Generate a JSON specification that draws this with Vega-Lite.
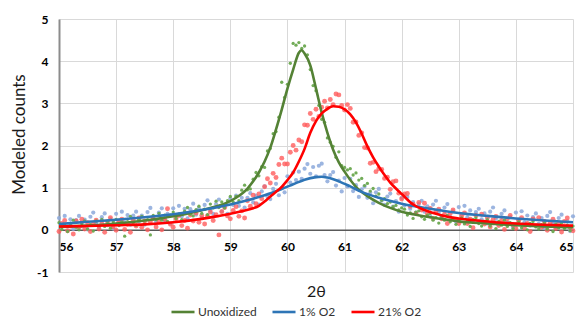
{
  "$schema": "https://vega.github.io/schema/vega-lite/v6.json",
  "width": 514,
  "height": 253,
  "autosize": "none",
  "padding": {"left": 59, "top": 19, "right": 11, "bottom": 48},
  "background": "white",
  "config": {
    "view": {"stroke": null},
    "font": "Lato",
    "axis": {"labelFont": "Lato", "titleFont": "Lato"}
  },
  "datasets": {
    "pts": [
      {"s":"B","x":56.00,"y":0.28},{"s":"B","x":56.05,"y":0.11},{"s":"B","x":56.10,"y":0.33},{"s":"B","x":56.15,"y":0.08},{"s":"B","x":56.20,"y":0.25},{"s":"B","x":56.25,"y":0.02},{"s":"B","x":56.30,"y":0.23},{"s":"B","x":56.35,"y":0.33},{"s":"B","x":56.40,"y":0.09},{"s":"B","x":56.45,"y":0.24},{"s":"B","x":56.50,"y":0.01},{"s":"B","x":56.55,"y":0.31},{"s":"B","x":56.60,"y":0.41},{"s":"B","x":56.65,"y":0.16},{"s":"B","x":56.70,"y":0.07},{"s":"B","x":56.75,"y":0.30},{"s":"B","x":56.80,"y":0.39},{"s":"B","x":56.85,"y":0.11},{"s":"B","x":56.90,"y":0.25},{"s":"B","x":56.95,"y":0.03},
      {"s":"B","x":57.00,"y":0.38},{"s":"B","x":57.05,"y":0.22},{"s":"B","x":57.10,"y":0.43},{"s":"B","x":57.15,"y":0.18},{"s":"B","x":57.20,"y":0.35},{"s":"B","x":57.25,"y":0.12},{"s":"B","x":57.30,"y":0.34},{"s":"B","x":57.35,"y":0.43},{"s":"B","x":57.40,"y":0.20},{"s":"B","x":57.45,"y":0.34},{"s":"B","x":57.50,"y":0.12},{"s":"B","x":57.55,"y":0.42},{"s":"B","x":57.60,"y":0.52},{"s":"B","x":57.65,"y":0.27},{"s":"B","x":57.70,"y":0.19},{"s":"B","x":57.75,"y":0.41},{"s":"B","x":57.80,"y":0.51},{"s":"B","x":57.85,"y":0.23},{"s":"B","x":57.90,"y":0.38},{"s":"B","x":57.95,"y":0.15},
      {"s":"B","x":58.00,"y":0.51},{"s":"B","x":58.05,"y":0.35},{"s":"B","x":58.10,"y":0.57},{"s":"B","x":58.15,"y":0.32},{"s":"B","x":58.20,"y":0.50},{"s":"B","x":58.25,"y":0.27},{"s":"B","x":58.30,"y":0.49},{"s":"B","x":58.35,"y":0.62},{"s":"B","x":58.40,"y":0.36},{"s":"B","x":58.45,"y":0.51},{"s":"B","x":58.50,"y":0.29},{"s":"B","x":58.55,"y":0.59},{"s":"B","x":58.60,"y":0.70},{"s":"B","x":58.65,"y":0.46},{"s":"B","x":58.70,"y":0.38},{"s":"B","x":58.75,"y":0.61},{"s":"B","x":58.80,"y":0.72},{"s":"B","x":58.85,"y":0.44},{"s":"B","x":58.90,"y":0.59},{"s":"B","x":58.95,"y":0.38},
      {"s":"B","x":59.00,"y":0.74},{"s":"B","x":59.05,"y":0.59},{"s":"B","x":59.10,"y":0.81},{"s":"B","x":59.15,"y":0.57},{"s":"B","x":59.20,"y":0.76},{"s":"B","x":59.25,"y":0.53},{"s":"B","x":59.30,"y":0.76},{"s":"B","x":59.35,"y":0.87},{"s":"B","x":59.40,"y":0.65},{"s":"B","x":59.45,"y":0.81},{"s":"B","x":59.50,"y":0.60},{"s":"B","x":59.55,"y":0.91},{"s":"B","x":59.60,"y":1.03},{"s":"B","x":59.65,"y":0.79},{"s":"B","x":59.70,"y":0.73},{"s":"B","x":59.75,"y":0.97},{"s":"B","x":59.80,"y":1.09},{"s":"B","x":59.85,"y":0.82},{"s":"B","x":59.90,"y":0.99},{"s":"B","x":59.95,"y":0.89},
      {"s":"B","x":60.00,"y":1.27},{"s":"B","x":60.05,"y":1.12},{"s":"B","x":60.10,"y":1.36},{"s":"B","x":60.15,"y":1.18},{"s":"B","x":60.20,"y":1.38},{"s":"B","x":60.25,"y":1.21},{"s":"B","x":60.30,"y":1.45},{"s":"B","x":60.35,"y":1.56},{"s":"B","x":60.40,"y":1.33},{"s":"B","x":60.45,"y":1.49},{"s":"B","x":60.50,"y":1.27},{"s":"B","x":60.55,"y":1.52},{"s":"B","x":60.60,"y":1.57},{"s":"B","x":60.65,"y":1.30},{"s":"B","x":60.70,"y":1.15},{"s":"B","x":60.75,"y":1.30},{"s":"B","x":60.80,"y":1.37},{"s":"B","x":60.85,"y":1.05},{"s":"B","x":60.90,"y":1.17},{"s":"B","x":60.95,"y":0.91},
      {"s":"B","x":61.00,"y":1.23},{"s":"B","x":61.05,"y":1.03},{"s":"B","x":61.10,"y":1.21},{"s":"B","x":61.15,"y":0.92},{"s":"B","x":61.20,"y":1.06},{"s":"B","x":61.25,"y":0.78},{"s":"B","x":61.30,"y":0.96},{"s":"B","x":61.35,"y":1.03},{"s":"B","x":61.40,"y":0.76},{"s":"B","x":61.45,"y":0.88},{"s":"B","x":61.50,"y":0.63},{"s":"B","x":61.55,"y":0.89},{"s":"B","x":61.60,"y":0.97},{"s":"B","x":61.65,"y":0.69},{"s":"B","x":61.70,"y":0.59},{"s":"B","x":61.75,"y":0.79},{"s":"B","x":61.80,"y":0.86},{"s":"B","x":61.85,"y":0.55},{"s":"B","x":61.90,"y":0.68},{"s":"B","x":61.95,"y":0.43},
      {"s":"B","x":62.00,"y":0.76},{"s":"B","x":62.05,"y":0.58},{"s":"B","x":62.10,"y":0.78},{"s":"B","x":62.15,"y":0.50},{"s":"B","x":62.20,"y":0.66},{"s":"B","x":62.25,"y":0.41},{"s":"B","x":62.30,"y":0.61},{"s":"B","x":62.35,"y":0.69},{"s":"B","x":62.40,"y":0.43},{"s":"B","x":62.45,"y":0.56},{"s":"B","x":62.50,"y":0.32},{"s":"B","x":62.55,"y":0.60},{"s":"B","x":62.60,"y":0.69},{"s":"B","x":62.65,"y":0.42},{"s":"B","x":62.70,"y":0.32},{"s":"B","x":62.75,"y":0.53},{"s":"B","x":62.80,"y":0.61},{"s":"B","x":62.85,"y":0.31},{"s":"B","x":62.90,"y":0.44},{"s":"B","x":62.95,"y":0.20},
      {"s":"B","x":63.00,"y":0.54},{"s":"B","x":63.05,"y":0.36},{"s":"B","x":63.10,"y":0.57},{"s":"B","x":63.15,"y":0.30},{"s":"B","x":63.20,"y":0.46},{"s":"B","x":63.25,"y":0.22},{"s":"B","x":63.30,"y":0.42},{"s":"B","x":63.35,"y":0.50},{"s":"B","x":63.40,"y":0.25},{"s":"B","x":63.45,"y":0.39},{"s":"B","x":63.50,"y":0.15},{"s":"B","x":63.55,"y":0.43},{"s":"B","x":63.60,"y":0.53},{"s":"B","x":63.65,"y":0.26},{"s":"B","x":63.70,"y":0.16},{"s":"B","x":63.75,"y":0.38},{"s":"B","x":63.80,"y":0.46},{"s":"B","x":63.85,"y":0.17},{"s":"B","x":63.90,"y":0.30},{"s":"B","x":63.95,"y":0.07},
      {"s":"B","x":64.00,"y":0.41},{"s":"B","x":64.05,"y":0.24},{"s":"B","x":64.10,"y":0.44},{"s":"B","x":64.15,"y":0.18},{"s":"B","x":64.20,"y":0.34},{"s":"B","x":64.25,"y":0.10},{"s":"B","x":64.30,"y":0.30},{"s":"B","x":64.35,"y":0.39},{"s":"B","x":64.40,"y":0.14},{"s":"B","x":64.45,"y":0.28},{"s":"B","x":64.50,"y":0.04},{"s":"B","x":64.55,"y":0.33},{"s":"B","x":64.60,"y":0.42},{"s":"B","x":64.65,"y":0.16},{"s":"B","x":64.70,"y":0.06},{"s":"B","x":64.75,"y":0.28},{"s":"B","x":64.80,"y":0.36},{"s":"B","x":64.85,"y":0.07},{"s":"B","x":64.90,"y":0.20},{"s":"B","x":64.95,"y":-0.03},{"s":"B","x":65.00,"y":0.32},

      {"s":"R","x":56.00,"y":-0.04},{"s":"R","x":56.05,"y":0.15},{"s":"R","x":56.10,"y":0.22},{"s":"R","x":56.15,"y":-0.02},{"s":"R","x":56.20,"y":0.09},{"s":"R","x":56.25,"y":-0.10},{"s":"R","x":56.30,"y":0.21},{"s":"R","x":56.35,"y":0.06},{"s":"R","x":56.40,"y":0.25},{"s":"R","x":56.45,"y":0.02},{"s":"R","x":56.50,"y":0.17},{"s":"R","x":56.55,"y":-0.04},{"s":"R","x":56.60,"y":0.14},{"s":"R","x":56.65,"y":0.23},{"s":"R","x":56.70,"y":0.02},{"s":"R","x":56.75,"y":0.14},{"s":"R","x":56.80,"y":-0.06},{"s":"R","x":56.85,"y":0.19},{"s":"R","x":56.90,"y":0.29},{"s":"R","x":56.95,"y":0.07},
      {"s":"R","x":57.00,"y":-0.01},{"s":"R","x":57.05,"y":0.18},{"s":"R","x":57.10,"y":0.25},{"s":"R","x":57.15,"y":0.01},{"s":"R","x":57.20,"y":0.13},{"s":"R","x":57.25,"y":-0.06},{"s":"R","x":57.30,"y":0.24},{"s":"R","x":57.35,"y":0.09},{"s":"R","x":57.40,"y":0.28},{"s":"R","x":57.45,"y":0.06},{"s":"R","x":57.50,"y":0.21},{"s":"R","x":57.55,"y":0.00},{"s":"R","x":57.60,"y":0.19},{"s":"R","x":57.65,"y":0.27},{"s":"R","x":57.70,"y":0.07},{"s":"R","x":57.75,"y":0.19},{"s":"R","x":57.80,"y":0.00},{"s":"R","x":57.85,"y":0.25},{"s":"R","x":57.90,"y":0.50},{"s":"R","x":57.95,"y":0.13},
      {"s":"R","x":58.00,"y":0.06},{"s":"R","x":58.05,"y":0.26},{"s":"R","x":58.10,"y":0.34},{"s":"R","x":58.15,"y":0.10},{"s":"R","x":58.20,"y":0.22},{"s":"R","x":58.25,"y":0.04},{"s":"R","x":58.30,"y":0.35},{"s":"R","x":58.35,"y":0.21},{"s":"R","x":58.40,"y":0.40},{"s":"R","x":58.45,"y":0.18},{"s":"R","x":58.50,"y":0.34},{"s":"R","x":58.55,"y":0.14},{"s":"R","x":58.60,"y":0.33},{"s":"R","x":58.65,"y":0.42},{"s":"R","x":58.70,"y":0.22},{"s":"R","x":58.75,"y":0.36},{"s":"R","x":58.80,"y":-0.12},{"s":"R","x":58.85,"y":0.43},{"s":"R","x":58.90,"y":0.53},{"s":"R","x":58.95,"y":0.33},
      {"s":"R","x":59.00,"y":0.26},{"s":"R","x":59.05,"y":0.46},{"s":"R","x":59.10,"y":0.55},{"s":"R","x":59.15,"y":0.32},{"s":"R","x":59.20,"y":0.45},{"s":"R","x":59.25,"y":0.28},{"s":"R","x":59.30,"y":0.69},{"s":"R","x":59.35,"y":0.56},{"s":"R","x":59.40,"y":0.82},{"s":"R","x":59.45,"y":0.62},{"s":"R","x":59.50,"y":0.85},{"s":"R","x":59.55,"y":0.74},{"s":"R","x":59.60,"y":1.02},{"s":"R","x":59.65,"y":1.21},{"s":"R","x":59.70,"y":1.11},{"s":"R","x":59.75,"y":1.34},{"s":"R","x":59.80,"y":1.24},{"s":"R","x":59.85,"y":1.55},{"s":"R","x":59.90,"y":1.70},{"s":"R","x":59.95,"y":1.56},
      {"s":"R","x":60.00,"y":1.56},{"s":"R","x":60.05,"y":1.84},{"s":"R","x":60.10,"y":2.00},{"s":"R","x":60.15,"y":1.89},{"s":"R","x":60.20,"y":2.13},{"s":"R","x":60.25,"y":2.09},{"s":"R","x":60.30,"y":2.49},{"s":"R","x":60.35,"y":2.48},{"s":"R","x":60.40,"y":2.76},{"s":"R","x":60.45,"y":2.62},{"s":"R","x":60.50,"y":2.86},{"s":"R","x":60.55,"y":2.69},{"s":"R","x":60.60,"y":2.91},{"s":"R","x":60.65,"y":3.05},{"s":"R","x":60.70,"y":2.89},{"s":"R","x":60.75,"y":3.09},{"s":"R","x":60.80,"y":2.97},{"s":"R","x":60.85,"y":3.22},{"s":"R","x":60.90,"y":3.20},{"s":"R","x":60.95,"y":2.95},
      {"s":"R","x":61.00,"y":2.84},{"s":"R","x":61.05,"y":2.97},{"s":"R","x":61.10,"y":2.88},{"s":"R","x":61.15,"y":2.55},{"s":"R","x":61.20,"y":2.56},{"s":"R","x":61.25,"y":2.24},{"s":"R","x":61.30,"y":2.30},{"s":"R","x":61.35,"y":1.95},{"s":"R","x":61.40,"y":1.94},{"s":"R","x":61.45,"y":1.58},{"s":"R","x":61.50,"y":1.60},{"s":"R","x":61.55,"y":1.38},{"s":"R","x":61.60,"y":1.45},{"s":"R","x":61.65,"y":1.43},{"s":"R","x":61.70,"y":1.22},{"s":"R","x":61.75,"y":1.25},{"s":"R","x":61.80,"y":0.96},{"s":"R","x":61.85,"y":1.14},{"s":"R","x":61.90,"y":1.16},{"s":"R","x":61.95,"y":0.87},
      {"s":"R","x":62.00,"y":0.73},{"s":"R","x":62.05,"y":0.85},{"s":"R","x":62.10,"y":0.86},{"s":"R","x":62.15,"y":0.56},{"s":"R","x":62.20,"y":0.61},{"s":"R","x":62.25,"y":0.39},{"s":"R","x":62.30,"y":0.65},{"s":"R","x":62.35,"y":0.47},{"s":"R","x":62.40,"y":0.63},{"s":"R","x":62.45,"y":0.38},{"s":"R","x":62.50,"y":0.51},{"s":"R","x":62.55,"y":0.27},{"s":"R","x":62.60,"y":0.43},{"s":"R","x":62.65,"y":0.49},{"s":"R","x":62.70,"y":0.26},{"s":"R","x":62.75,"y":0.37},{"s":"R","x":62.80,"y":0.15},{"s":"R","x":62.85,"y":0.39},{"s":"R","x":62.90,"y":0.47},{"s":"R","x":62.95,"y":0.24},
      {"s":"R","x":63.00,"y":0.15},{"s":"R","x":63.05,"y":0.33},{"s":"R","x":63.10,"y":0.40},{"s":"R","x":63.15,"y":0.15},{"s":"R","x":63.20,"y":0.25},{"s":"R","x":63.25,"y":0.05},{"s":"R","x":63.30,"y":0.34},{"s":"R","x":63.35,"y":0.19},{"s":"R","x":63.40,"y":0.37},{"s":"R","x":63.45,"y":0.14},{"s":"R","x":63.50,"y":0.28},{"s":"R","x":63.55,"y":0.07},{"s":"R","x":63.60,"y":0.24},{"s":"R","x":63.65,"y":0.32},{"s":"R","x":63.70,"y":0.10},{"s":"R","x":63.75,"y":0.22},{"s":"R","x":63.80,"y":0.01},{"s":"R","x":63.85,"y":0.26},{"s":"R","x":63.90,"y":0.34},{"s":"R","x":63.95,"y":0.12},
      {"s":"R","x":64.00,"y":0.03},{"s":"R","x":64.05,"y":0.22},{"s":"R","x":64.10,"y":0.29},{"s":"R","x":64.15,"y":0.04},{"s":"R","x":64.20,"y":0.15},{"s":"R","x":64.25,"y":-0.04},{"s":"R","x":64.30,"y":0.26},{"s":"R","x":64.35,"y":0.10},{"s":"R","x":64.40,"y":0.29},{"s":"R","x":64.45,"y":0.06},{"s":"R","x":64.50,"y":0.20},{"s":"R","x":64.55,"y":-0.01},{"s":"R","x":64.60,"y":0.17},{"s":"R","x":64.65,"y":0.25},{"s":"R","x":64.70,"y":0.03},{"s":"R","x":64.75,"y":0.15},{"s":"R","x":64.80,"y":-0.05},{"s":"R","x":64.85,"y":0.20},{"s":"R","x":64.90,"y":0.28},{"s":"R","x":64.95,"y":0.06},{"s":"R","x":65.00,"y":-0.02},

      {"s":"U","x":56.00,"y":0.17},{"s":"U","x":56.05,"y":0.01},{"s":"U","x":56.10,"y":0.11},{"s":"U","x":56.15,"y":-0.04},{"s":"U","x":56.20,"y":0.15},{"s":"U","x":56.25,"y":0.23},{"s":"U","x":56.30,"y":0.06},{"s":"U","x":56.35,"y":0.00},{"s":"U","x":56.40,"y":0.15},{"s":"U","x":56.45,"y":0.21},{"s":"U","x":56.50,"y":0.02},{"s":"U","x":56.55,"y":0.12},{"s":"U","x":56.60,"y":-0.03},{"s":"U","x":56.65,"y":0.21},{"s":"U","x":56.70,"y":0.10},{"s":"U","x":56.75,"y":0.25},{"s":"U","x":56.80,"y":0.08},{"s":"U","x":56.85,"y":0.20},{"s":"U","x":56.90,"y":0.04},{"s":"U","x":56.95,"y":0.19},
      {"s":"U","x":57.00,"y":0.25},{"s":"U","x":57.05,"y":0.10},{"s":"U","x":57.10,"y":0.19},{"s":"U","x":57.15,"y":-0.15},{"s":"U","x":57.20,"y":0.25},{"s":"U","x":57.25,"y":0.32},{"s":"U","x":57.30,"y":0.16},{"s":"U","x":57.35,"y":0.11},{"s":"U","x":57.40,"y":0.25},{"s":"U","x":57.45,"y":0.32},{"s":"U","x":57.50,"y":0.14},{"s":"U","x":57.55,"y":0.24},{"s":"U","x":57.60,"y":-0.12},{"s":"U","x":57.65,"y":0.34},{"s":"U","x":57.70,"y":0.24},{"s":"U","x":57.75,"y":0.39},{"s":"U","x":57.80,"y":0.23},{"s":"U","x":57.85,"y":0.35},{"s":"U","x":57.90,"y":0.20},{"s":"U","x":57.95,"y":0.35},
      {"s":"U","x":58.00,"y":0.42},{"s":"U","x":58.05,"y":0.27},{"s":"U","x":58.10,"y":0.38},{"s":"U","x":58.15,"y":0.24},{"s":"U","x":58.20,"y":0.44},{"s":"U","x":58.25,"y":0.53},{"s":"U","x":58.30,"y":0.37},{"s":"U","x":58.35,"y":0.33},{"s":"U","x":58.40,"y":0.48},{"s":"U","x":58.45,"y":0.56},{"s":"U","x":58.50,"y":0.39},{"s":"U","x":58.55,"y":0.49},{"s":"U","x":58.60,"y":0.36},{"s":"U","x":58.65,"y":0.61},{"s":"U","x":58.70,"y":0.52},{"s":"U","x":58.75,"y":0.68},{"s":"U","x":58.80,"y":0.53},{"s":"U","x":58.85,"y":0.66},{"s":"U","x":58.90,"y":0.52},{"s":"U","x":58.95,"y":0.69},
      {"s":"U","x":59.00,"y":0.79},{"s":"U","x":59.05,"y":0.66},{"s":"U","x":59.10,"y":0.79},{"s":"U","x":59.15,"y":0.69},{"s":"U","x":59.20,"y":0.94},{"s":"U","x":59.25,"y":1.06},{"s":"U","x":59.30,"y":0.95},{"s":"U","x":59.35,"y":0.97},{"s":"U","x":59.40,"y":1.20},{"s":"U","x":59.45,"y":1.36},{"s":"U","x":59.50,"y":1.28},{"s":"U","x":59.55,"y":1.50},{"s":"U","x":59.60,"y":1.48},{"s":"U","x":59.65,"y":1.87},{"s":"U","x":59.70,"y":1.93},{"s":"U","x":59.75,"y":2.28},{"s":"U","x":59.80,"y":2.33},{"s":"U","x":59.85,"y":2.67},{"s":"U","x":59.90,"y":3.50},{"s":"U","x":59.95,"y":3.14},
      {"s":"U","x":60.00,"y":3.45},{"s":"U","x":60.05,"y":3.95},{"s":"U","x":60.10,"y":4.42},{"s":"U","x":60.15,"y":4.38},{"s":"U","x":60.20,"y":4.44},{"s":"U","x":60.25,"y":4.30},{"s":"U","x":60.30,"y":4.36},{"s":"U","x":60.35,"y":4.15},{"s":"U","x":60.40,"y":3.80},{"s":"U","x":60.45,"y":3.42},{"s":"U","x":60.50,"y":3.30},{"s":"U","x":60.55,"y":2.95},{"s":"U","x":60.60,"y":2.62},{"s":"U","x":60.65,"y":2.55},{"s":"U","x":60.70,"y":2.18},{"s":"U","x":60.75,"y":2.08},{"s":"U","x":60.80,"y":1.98},{"s":"U","x":60.85,"y":1.72},{"s":"U","x":60.90,"y":1.85},{"s":"U","x":60.95,"y":1.52},
      {"s":"U","x":61.00,"y":1.48},{"s":"U","x":61.05,"y":1.42},{"s":"U","x":61.10,"y":1.45},{"s":"U","x":61.15,"y":1.30},{"s":"U","x":61.20,"y":1.35},{"s":"U","x":61.25,"y":1.18},{"s":"U","x":61.30,"y":1.22},{"s":"U","x":61.35,"y":1.05},{"s":"U","x":61.40,"y":1.10},{"s":"U","x":61.45,"y":0.92},{"s":"U","x":61.50,"y":0.98},{"s":"U","x":61.55,"y":0.80},{"s":"U","x":61.60,"y":0.85},{"s":"U","x":61.65,"y":0.70},{"s":"U","x":61.70,"y":0.74},{"s":"U","x":61.75,"y":0.62},{"s":"U","x":61.80,"y":0.66},{"s":"U","x":61.85,"y":0.55},{"s":"U","x":61.90,"y":0.58},{"s":"U","x":61.95,"y":0.47},
      {"s":"U","x":62.00,"y":0.52},{"s":"U","x":62.05,"y":0.49},{"s":"U","x":62.10,"y":0.35},{"s":"U","x":62.15,"y":0.40},{"s":"U","x":62.20,"y":0.27},{"s":"U","x":62.25,"y":0.42},{"s":"U","x":62.30,"y":0.45},{"s":"U","x":62.35,"y":0.31},{"s":"U","x":62.40,"y":0.25},{"s":"U","x":62.45,"y":0.35},{"s":"U","x":62.50,"y":0.39},{"s":"U","x":62.55,"y":0.23},{"s":"U","x":62.60,"y":0.29},{"s":"U","x":62.65,"y":0.16},{"s":"U","x":62.70,"y":0.33},{"s":"U","x":62.75,"y":0.23},{"s":"U","x":62.80,"y":0.34},{"s":"U","x":62.85,"y":0.19},{"s":"U","x":62.90,"y":0.27},{"s":"U","x":62.95,"y":0.13},
      {"s":"U","x":63.00,"y":0.23},{"s":"U","x":63.05,"y":0.28},{"s":"U","x":63.10,"y":0.14},{"s":"U","x":63.15,"y":0.21},{"s":"U","x":63.20,"y":0.08},{"s":"U","x":63.25,"y":0.24},{"s":"U","x":63.30,"y":0.28},{"s":"U","x":63.35,"y":0.15},{"s":"U","x":63.40,"y":0.09},{"s":"U","x":63.45,"y":0.20},{"s":"U","x":63.50,"y":0.24},{"s":"U","x":63.55,"y":0.09},{"s":"U","x":63.60,"y":0.15},{"s":"U","x":63.65,"y":0.03},{"s":"U","x":63.70,"y":0.20},{"s":"U","x":63.75,"y":0.11},{"s":"U","x":63.80,"y":0.23},{"s":"U","x":63.85,"y":0.08},{"s":"U","x":63.90,"y":0.17},{"s":"U","x":63.95,"y":0.03},
      {"s":"U","x":64.00,"y":0.14},{"s":"U","x":64.05,"y":0.19},{"s":"U","x":64.10,"y":0.05},{"s":"U","x":64.15,"y":0.12},{"s":"U","x":64.20,"y":0.00},{"s":"U","x":64.25,"y":0.15},{"s":"U","x":64.30,"y":0.20},{"s":"U","x":64.35,"y":0.07},{"s":"U","x":64.40,"y":0.02},{"s":"U","x":64.45,"y":0.12},{"s":"U","x":64.50,"y":0.17},{"s":"U","x":64.55,"y":0.02},{"s":"U","x":64.60,"y":0.09},{"s":"U","x":64.65,"y":-0.04},{"s":"U","x":64.70,"y":0.14},{"s":"U","x":64.75,"y":0.05},{"s":"U","x":64.80,"y":0.17},{"s":"U","x":64.85,"y":0.03},{"s":"U","x":64.90,"y":0.11},{"s":"U","x":64.95,"y":-0.02},{"s":"U","x":65.00,"y":0.09}
    ],
    "fit": [
      {"s":"Unoxidized","x":56.0,"y":0.07},{"s":"Unoxidized","x":56.5,"y":0.10},{"s":"Unoxidized","x":57.0,"y":0.15},{"s":"Unoxidized","x":57.5,"y":0.22},{"s":"Unoxidized","x":58.0,"y":0.32},{"s":"Unoxidized","x":58.3,"y":0.40},{"s":"Unoxidized","x":58.6,"y":0.50},{"s":"Unoxidized","x":58.9,"y":0.62},{"s":"Unoxidized","x":59.1,"y":0.76},{"s":"Unoxidized","x":59.3,"y":0.98},{"s":"Unoxidized","x":59.4,"y":1.15},{"s":"Unoxidized","x":59.5,"y":1.36},{"s":"Unoxidized","x":59.6,"y":1.62},{"s":"Unoxidized","x":59.7,"y":1.95},{"s":"Unoxidized","x":59.8,"y":2.38},{"s":"Unoxidized","x":59.9,"y":2.85},{"s":"Unoxidized","x":60.0,"y":3.35},{"s":"Unoxidized","x":60.1,"y":3.80},{"s":"Unoxidized","x":60.2,"y":4.20},{"s":"Unoxidized","x":60.25,"y":4.26},{"s":"Unoxidized","x":60.3,"y":4.18},{"s":"Unoxidized","x":60.4,"y":3.90},{"s":"Unoxidized","x":60.5,"y":3.35},{"s":"Unoxidized","x":60.6,"y":2.78},{"s":"Unoxidized","x":60.7,"y":2.30},{"s":"Unoxidized","x":60.8,"y":1.90},{"s":"Unoxidized","x":60.9,"y":1.60},{"s":"Unoxidized","x":61.0,"y":1.38},{"s":"Unoxidized","x":61.2,"y":1.02},{"s":"Unoxidized","x":61.4,"y":0.80},{"s":"Unoxidized","x":61.6,"y":0.64},{"s":"Unoxidized","x":61.8,"y":0.52},{"s":"Unoxidized","x":62.0,"y":0.43},{"s":"Unoxidized","x":62.2,"y":0.37},{"s":"Unoxidized","x":62.5,"y":0.30},{"s":"Unoxidized","x":62.8,"y":0.24},{"s":"Unoxidized","x":63.0,"y":0.20},{"s":"Unoxidized","x":63.5,"y":0.15},{"s":"Unoxidized","x":64.0,"y":0.11},{"s":"Unoxidized","x":64.5,"y":0.08},{"s":"Unoxidized","x":65.0,"y":0.06},
      {"s":"1% O2","x":56.0,"y":0.14},{"s":"1% O2","x":56.5,"y":0.19},{"s":"1% O2","x":57.0,"y":0.24},{"s":"1% O2","x":57.5,"y":0.30},{"s":"1% O2","x":58.0,"y":0.37},{"s":"1% O2","x":58.5,"y":0.47},{"s":"1% O2","x":59.0,"y":0.60},{"s":"1% O2","x":59.3,"y":0.70},{"s":"1% O2","x":59.6,"y":0.82},{"s":"1% O2","x":59.9,"y":0.97},{"s":"1% O2","x":60.1,"y":1.08},{"s":"1% O2","x":60.3,"y":1.19},{"s":"1% O2","x":60.5,"y":1.25},{"s":"1% O2","x":60.6,"y":1.26},{"s":"1% O2","x":60.7,"y":1.24},{"s":"1% O2","x":60.9,"y":1.15},{"s":"1% O2","x":61.1,"y":1.03},{"s":"1% O2","x":61.3,"y":0.90},{"s":"1% O2","x":61.6,"y":0.76},{"s":"1% O2","x":62.0,"y":0.62},{"s":"1% O2","x":62.5,"y":0.50},{"s":"1% O2","x":63.0,"y":0.40},{"s":"1% O2","x":63.5,"y":0.33},{"s":"1% O2","x":64.0,"y":0.27},{"s":"1% O2","x":64.5,"y":0.22},{"s":"1% O2","x":65.0,"y":0.18},
      {"s":"21% O2","x":56.0,"y":0.08},{"s":"21% O2","x":56.5,"y":0.09},{"s":"21% O2","x":57.0,"y":0.11},{"s":"21% O2","x":57.5,"y":0.13},{"s":"21% O2","x":58.0,"y":0.18},{"s":"21% O2","x":58.5,"y":0.26},{"s":"21% O2","x":58.8,"y":0.33},{"s":"21% O2","x":59.0,"y":0.38},{"s":"21% O2","x":59.2,"y":0.44},{"s":"21% O2","x":59.4,"y":0.51},{"s":"21% O2","x":59.5,"y":0.57},{"s":"21% O2","x":59.6,"y":0.67},{"s":"21% O2","x":59.7,"y":0.79},{"s":"21% O2","x":59.8,"y":0.90},{"s":"21% O2","x":59.9,"y":1.02},{"s":"21% O2","x":60.0,"y":1.18},{"s":"21% O2","x":60.1,"y":1.36},{"s":"21% O2","x":60.2,"y":1.62},{"s":"21% O2","x":60.3,"y":1.92},{"s":"21% O2","x":60.4,"y":2.30},{"s":"21% O2","x":60.5,"y":2.58},{"s":"21% O2","x":60.6,"y":2.76},{"s":"21% O2","x":60.7,"y":2.87},{"s":"21% O2","x":60.8,"y":2.93},{"s":"21% O2","x":60.9,"y":2.92},{"s":"21% O2","x":61.0,"y":2.86},{"s":"21% O2","x":61.1,"y":2.74},{"s":"21% O2","x":61.2,"y":2.55},{"s":"21% O2","x":61.3,"y":2.28},{"s":"21% O2","x":61.4,"y":1.98},{"s":"21% O2","x":61.5,"y":1.72},{"s":"21% O2","x":61.6,"y":1.50},{"s":"21% O2","x":61.7,"y":1.30},{"s":"21% O2","x":61.8,"y":1.12},{"s":"21% O2","x":61.9,"y":0.98},{"s":"21% O2","x":62.0,"y":0.85},{"s":"21% O2","x":62.2,"y":0.60},{"s":"21% O2","x":62.4,"y":0.47},{"s":"21% O2","x":62.6,"y":0.38},{"s":"21% O2","x":62.8,"y":0.31},{"s":"21% O2","x":63.0,"y":0.27},{"s":"21% O2","x":63.4,"y":0.21},{"s":"21% O2","x":64.0,"y":0.15},{"s":"21% O2","x":64.5,"y":0.12},{"s":"21% O2","x":65.0,"y":0.10}
    ]
  },
  "layer": [
    {
      "data": {"name": "pts"},
      "mark": {"type": "point", "filled": true, "shape": "circle", "strokeWidth": 0},
      "encoding": {
        "x": {
          "field": "x", "type": "quantitative",
          "scale": {"domain": [56, 65], "nice": false, "zero": false},
          "axis": {
            "values": [56,57,58,59,60,61,62,63,64,65],
            "format": "d",
            "offset": -42.2,
            "grid": true, "gridColor": "#d9d9d9", "gridWidth": 1,
            "ticks": false,
            "domainColor": "#595959", "domainWidth": 1.5,
            "labelFont": "Lato", "labelFontWeight": "bold", "labelFontSize": 12, "labelColor": "#000000", "labelPadding": 12,
            "title": "2θ", "titleFont": "Lato", "titleFontSize": 16, "titleFontWeight": "normal", "titleColor": "#1a1a1a", "titlePadding": 31
          }
        },
        "y": {
          "field": "y", "type": "quantitative",
          "scale": {"domain": [-1, 5], "nice": false},
          "axis": {
            "values": [-1,0,1,2,3,4,5],
            "labelExpr": "datum.value < 0 ? '-' + abs(datum.value) : '' + datum.value",
            "grid": true, "gridColor": "#d9d9d9", "gridWidth": 1,
            "ticks": false,
            "domainColor": "#8c8c8c", "domainWidth": 2,
            "labelFont": "Lato", "labelFontWeight": "bold", "labelFontSize": 12, "labelColor": "#000000", "labelPadding": 11,
            "title": "Modeled counts", "titleFont": "Lato", "titleFontSize": 17, "titleFontWeight": "normal", "titleColor": "#1a1a1a", "titlePadding": 8, "titleY": 115
          }
        },
        "color": {"field": "s", "type": "nominal", "scale": {"domain": ["U","B","R"], "range": ["#6aa84f", "#8eaadb", "#ff5c5c"]}, "legend": null},
        "size": {"field": "s", "type": "nominal", "scale": {"domain": ["U","B","R"], "range": [11, 24, 24]}, "legend": null},
        "opacity": {"field": "s", "type": "nominal", "scale": {"domain": ["U","B","R"], "range": [0.95, 0.8, 0.65]}, "legend": null}
      }
    },
    {
      "data": {"name": "fit"},
      "mark": {"type": "line", "strokeWidth": 2.6, "interpolate": "monotone"},
      "encoding": {
        "x": {"field": "x", "type": "quantitative"},
        "y": {"field": "y", "type": "quantitative"},
        "color": {
          "field": "s", "type": "nominal",
          "scale": {"domain": ["Unoxidized", "1% O2", "21% O2"], "range": ["#548235", "#2e75b6", "#ff0000"]},
          "legend": {
            "title": null, "orient": "none", "direction": "horizontal",
            "legendX": 111, "legendY": 280,
            "symbolType": "stroke", "symbolSize": 530, "symbolStrokeWidth": 2.6,
            "labelFont": "Lato", "labelFontSize": 12, "labelColor": "#333333", "labelOffset": 2,
            "columnPadding": 10
          }
        }
      }
    }
  ],
  "resolve": {"scale": {"color": "independent", "size": "independent", "opacity": "independent"}}
}
